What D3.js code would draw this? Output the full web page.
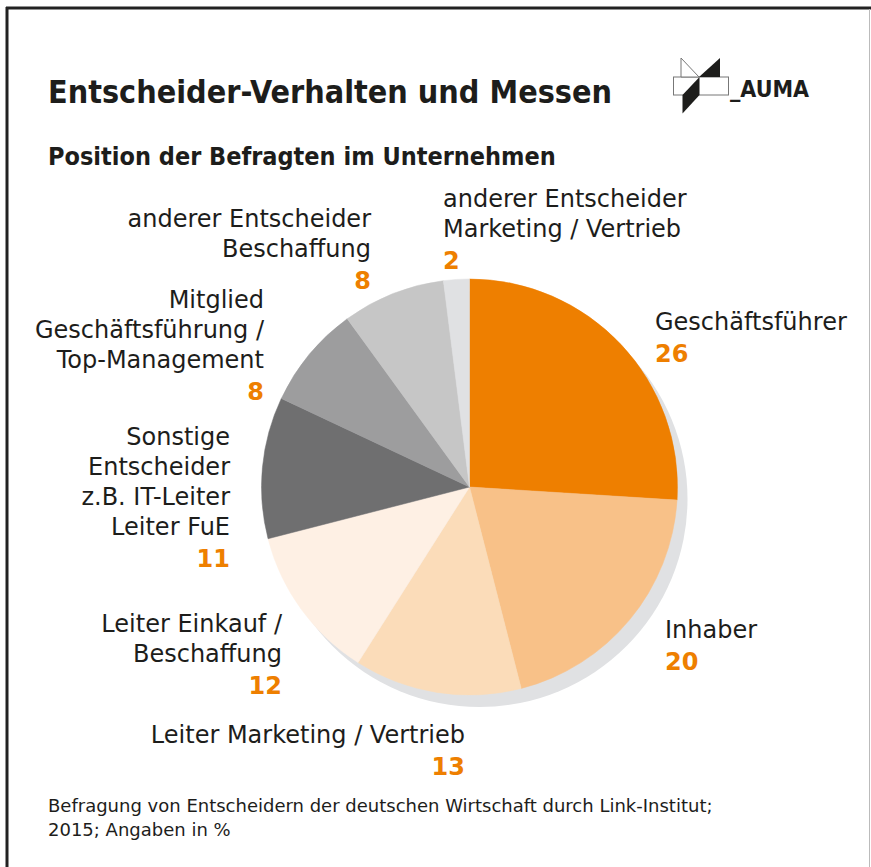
<!DOCTYPE html>
<html>
<head>
<meta charset="utf-8">
<script src="https://cdn.jsdelivr.net/npm/d3@7"></script>
<style>
  body { margin: 0; background: #fff; }
  text { font-family: "DejaVu Sans Condensed", "DejaVu Sans", sans-serif; }
  text.wide { font-family: "DejaVu Sans", sans-serif; }
</style>
</head>
<body>
<div id="chart"></div>
<script>
// Data
var categories = [
    ["Geschäftsführer"],
    ["Inhaber"],
    ["Leiter Marketing / Vertrieb"],
    ["Leiter Einkauf /", "Beschaffung"],
    ["Sonstige", "Entscheider", "z.B. IT-Leiter", "Leiter FuE"],
    ["Mitglied", "Geschäftsführung /", "Top-Management"],
    ["anderer Entscheider", "Beschaffung"],
    ["anderer Entscheider", "Marketing / Vertrieb"]
];
var values = [26, 20, 13, 12, 11, 8, 8, 2];
var colors = ["#ee7f00", "#f8c188", "#fbdcb9", "#fef0e4", "#6f6f70", "#9d9d9e", "#c6c6c6", "#e0e1e3"];

// Label anchor (x, first baseline) and text-anchor for each slice
var labelPos = [
    { x: 655, y: 330, anchor: "start" },
    { x: 665, y: 638, anchor: "start" },
    { x: 465, y: 743, anchor: "end" },
    { x: 282, y: 632, anchor: "end" },
    { x: 230, y: 445, anchor: "end" },
    { x: 264, y: 308, anchor: "end" },
    { x: 371, y: 227, anchor: "end" },
    { x: 443, y: 207, anchor: "start" }
];

var width = 871;
var height = 867;
var cx = 469.5, cy = 487, radius = 208;
var lineH = 30;

var svg = d3.select("#chart")
    .append("svg")
    .attr("width", width)
    .attr("height", height);

// Frame
svg.append("line").attr("x1", 6).attr("x2", 871).attr("y1", 8).attr("y2", 8)
    .attr("stroke", "#222").attr("stroke-width", 3);
svg.append("line").attr("x1", 7).attr("x2", 7).attr("y1", 7).attr("y2", 867)
    .attr("stroke", "#222").attr("stroke-width", 3);
svg.append("line").attr("x1", 869.5).attr("x2", 869.5).attr("y1", 9).attr("y2", 867)
    .attr("stroke", "#bbb").attr("stroke-width", 1);

// Titles
svg.append("text").attr("x", 48).attr("y", 103)
    .attr("font-size", 32).attr("font-weight", "bold").attr("fill", "#1d1d1b")
    .text("Entscheider-Verhalten und Messen");
svg.append("text").attr("x", 48).attr("y", 165)
    .attr("font-size", 25).attr("font-weight", "bold").attr("fill", "#1d1d1b")
    .text("Position der Befragten im Unternehmen");

// Logo
var logo = svg.append("g");
logo.append("rect").attr("x", 673.5).attr("y", 77).attr("width", 55).attr("height", 18)
    .attr("fill", "#fff").attr("stroke", "#777").attr("stroke-width", 1);
logo.append("polygon").attr("points", "681,58 681,77 699,77")
    .attr("fill", "#fff").attr("stroke", "#777").attr("stroke-width", 1);
logo.append("polygon").attr("points", "720,58 720,77 699,77").attr("fill", "#1d1d1b");
logo.append("polygon").attr("points", "699.5,77 699.5,95 682.5,113.5 682.5,95").attr("fill", "#1d1d1b");
logo.append("text").attr("x", 730).attr("y", 97)
    .attr("font-size", 23).attr("font-weight", "bold").attr("fill", "#1d1d1b")
    .text("_AUMA");

// Pie
var pie = d3.pie().sort(null).value(function(d) { return d; });
var arc = d3.arc().innerRadius(0).outerRadius(radius);
var arcs = pie(values);

// Shadow
svg.append("circle").attr("cx", cx + 10).attr("cy", cy + 12).attr("r", radius)
    .attr("fill", "#e0e1e3");

var g = svg.append("g").attr("transform", "translate(" + cx + "," + cy + ")");
g.selectAll("path")
    .data(arcs)
    .enter().append("path")
    .attr("d", arc)
    .attr("fill", function(d, i) { return colors[i]; })
    .attr("stroke", function(d, i) { return colors[i]; })
    .attr("stroke-width", 0.5);

// Labels
categories.forEach(function(lines, i) {
    var p = labelPos[i];
    var t = svg.append("text")
        .attr("class", "wide")
        .attr("text-anchor", p.anchor)
        .attr("font-size", 24);
    lines.forEach(function(s, j) {
        t.append("tspan").attr("x", p.x).attr("y", p.y + j * lineH)
            .attr("fill", "#1d1d1b").text(s);
    });
    t.append("tspan").attr("x", p.x).attr("y", p.y + lines.length * lineH + 2)
        .attr("fill", "#ee7f00").attr("font-weight", "bold").text(values[i]);
});

// Footnote
var foot = svg.append("text").attr("class", "wide").attr("font-size", 18).attr("fill", "#1d1d1b");
foot.append("tspan").attr("x", 48).attr("y", 812)
    .text("Befragung von Entscheidern der deutschen Wirtschaft durch Link-Institut;");
foot.append("tspan").attr("x", 48).attr("y", 836).text("2015; Angaben in %");
</script>
</body>
</html>
